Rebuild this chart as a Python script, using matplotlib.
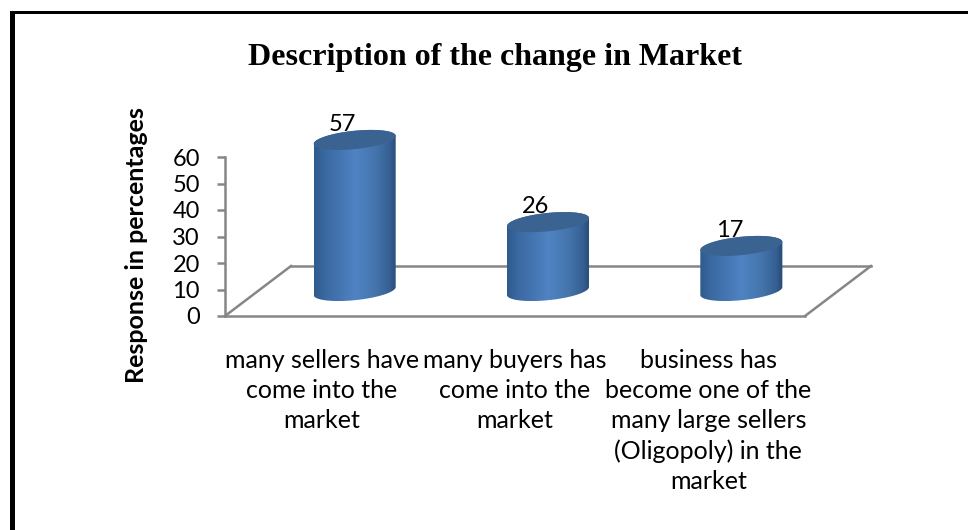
import numpy as np
import matplotlib
matplotlib.use('Agg')
import matplotlib.pyplot as plt
from matplotlib.colors import LinearSegmentedColormap
from matplotlib.patches import PathPatch, Rectangle
from matplotlib.path import Path

categories = ['many sellers have\ncome into the\nmarket',
              'many buyers has\ncome into the\nmarket',
              'business has\nbecome one of the\nmany large sellers\n(Oligopoly) in the\nmarket']
values = [57, 26, 17]
yticks = [0, 10, 20, 30, 40, 50, 60]

GREY = '#868686'
# floor depth and cylinder shape, in axis units (1 category = 193.3 px, 1 y unit = 2.65 px)
depth_x = 66 / 193.3
depth_y = 50 / 2.65
rad_x = 41 / 193.3
rad_y = 9.2 / 2.65
tilt = 4 / 2.65

fig = plt.figure(figsize=(9.68, 5.30), dpi=100)
ax = fig.add_axes([225 / 968, (530 - 316) / 530, 580 / 968, 159 / 530])

body_cmap = LinearSegmentedColormap.from_list('body', [
    (0.0, '#2f5a8c'), (0.15, '#3c6aa3'), (0.5, '#4f83c3'), (0.75, '#4474ab'),
    (0.92, '#355f92'), (1.0, '#274a75')])
grad = np.linspace(0, 1, 256).reshape(1, -1)


def ellipse(cx, cy, t):
    return cx + rad_x * np.cos(t), cy + rad_y * np.sin(t) + tilt * np.cos(t)


def cylinder(cx, base, value):
    top = base + value
    x1, y1 = ellipse(cx, base, np.linspace(np.pi, 2 * np.pi, 60))
    x2, y2 = ellipse(cx, top, np.linspace(0, np.pi, 60))
    pts = np.column_stack([np.r_[x1, x2], np.r_[y1, y2]])
    clip = PathPatch(Path(np.vstack([pts, pts[0]]), closed=True), transform=ax.transData,
                     fc='none', ec='none')
    im = ax.imshow(grad, cmap=body_cmap, aspect='auto', interpolation='bilinear',
                   extent=[cx - rad_x, cx + rad_x, base - 6, top + 6], zorder=3)
    im.set_clip_path(clip)
    im.set_clip_box(fig.bbox)
    xt, yt = ellipse(cx, top, np.linspace(0, 2 * np.pi, 120))
    ax.fill(xt, yt, color='#3a6391', lw=0, zorder=4, clip_on=False)
    return top


# floor
ax.plot([0, depth_x], [0, depth_y], color=GREY, lw=1.8, clip_on=False, zorder=1)
ax.plot([depth_x, 3 + depth_x], [depth_y, depth_y], color=GREY, lw=1.8, clip_on=False, zorder=1)
ax.plot([3, 3 + depth_x], [0, depth_y], color=GREY, lw=1.8, clip_on=False, zorder=1)

for i, v in enumerate(values):
    cx = i + 0.5 + depth_x / 2
    top = cylinder(cx, depth_y / 2, v)
    ax.text(cx - 12 / 193.3, top + 6, str(v), ha='center', va='center', fontsize=17,
            family='Lato', color='black', zorder=2)

ax.set_xlim(0, 3)
ax.set_ylim(0, 60)
ax.set_yticks(yticks)
ax.set_xticks([i + 0.5 for i in range(3)])
ax.set_xticklabels(categories, fontsize=18, family='Lato', linespacing=1.36)
ax.tick_params(axis='x', length=0, pad=24)
ax.tick_params(axis='y', length=6, width=1.8, color=GREY, labelsize=17, pad=12)
for lab in ax.get_yticklabels():
    lab.set_family('Lato')
for s in ['top', 'right']:
    ax.spines[s].set_visible(False)
for s in ['left', 'bottom']:
    ax.spines[s].set_color(GREY)
    ax.spines[s].set_linewidth(1.8)
ax.patch.set_visible(False)

fig.text(495 / 968, 1 - 57 / 530, 'Description of the change in Market', ha='center', va='center',
         fontsize=23, fontweight='bold', family='Liberation Serif')
fig.text(137 / 968, 1 - 245 / 530, 'Response in percentages', rotation=90, ha='center', va='center',
         fontsize=18, fontweight='bold', family='Lato')

# page border, only top and left
fig.add_artist(Rectangle((9.5 / 968, 0), 5 / 968, 1 - 11 / 530, transform=fig.transFigure,
                         fc='black', ec='none'))
fig.add_artist(Rectangle((9.5 / 968, 1 - 14 / 530), 1, 3 / 530, transform=fig.transFigure,
                         fc='black', ec='none'))

fig.savefig('out.png', dpi=100)
